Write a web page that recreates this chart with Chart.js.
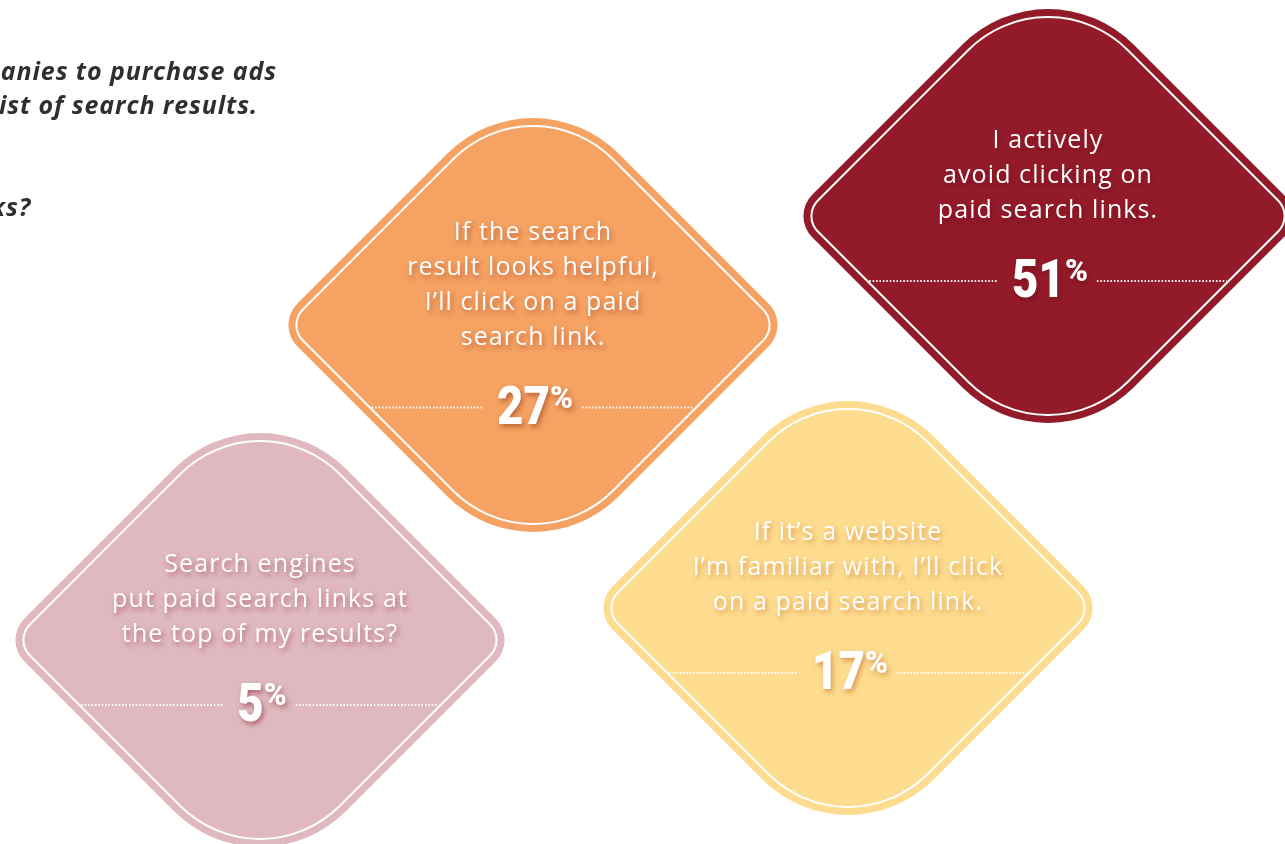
<!DOCTYPE html>
<html>
<head>
<meta charset="utf-8">
<script src="https://cdn.jsdelivr.net/npm/chart.js@4/dist/chart.umd.min.js"></script>
<style>
  html, body { margin: 0; padding: 0; background: #ffffff; overflow: hidden; }
  #wrap { position: relative; width: 1285px; height: 844px; }
</style>
</head>
<body>
<div id="wrap"><canvas id="c" width="1285" height="844"></canvas></div>
<script>
// ---- data ----
const categories = [
  "I actively\navoid clicking on\npaid search links.",
  "If the search\nresult looks helpful,\nI’ll click on a paid\nsearch link.",
  "If it’s a website\nI’m familiar with, I’ll click\non a paid search link.",
  "Search engines\nput paid search links at\nthe top of my results?"
];
const percentages = [51, 27, 17, 5];
const titleLines = ["companies to purchase ads", "list of search results.", "", "", "links?"];

// ---- layout & style (not data) ----
const layoutCenters = [[1048, 216], [533, 325], [848, 608], [260, 640]];
const fillColors = ["#931a29", "#f5a263", "#fddc8f", "#dfb9bf"];
const shadowColors = ["rgba(60,0,10,0.25)", "rgba(160,60,30,0.6)", "rgba(200,110,40,0.6)", "rgba(150,50,65,0.6)"];

const W = 1285, H = 844;

function diamondPath(ctx, cx, cy, D, rTB, rLR) {
  const T = [cx, cy - D], R = [cx + D, cy], B = [cx, cy + D], L = [cx - D, cy];
  ctx.beginPath();
  ctx.moveTo((L[0] + T[0]) / 2, (L[1] + T[1]) / 2);
  ctx.arcTo(T[0], T[1], R[0], R[1], rTB);
  ctx.arcTo(R[0], R[1], B[0], B[1], rLR);
  ctx.arcTo(B[0], B[1], L[0], L[1], rTB);
  ctx.arcTo(L[0], L[1], T[0], T[1], rLR);
  ctx.closePath();
}

const NUM_FONT = "900 53px Roboto, 'Liberation Sans', sans-serif";
const PCT_FONT = "900 31px Roboto, 'Liberation Sans', sans-serif";
const NUM_SX = 0.86;

const diamondPlugin = {
  id: 'diamonds',
  afterDatasetsDraw(chart) {
    const ctx = chart.ctx;
    const meta = chart.getDatasetMeta(0);
    const D = 257, rTB = 121, rLR = 30, inset = 8;
    meta.data.forEach((pt, i) => {
      const cx = pt.x, cy = pt.y;
      ctx.save();
      diamondPath(ctx, cx, cy, D, rTB, rLR);
      ctx.fillStyle = fillColors[i];
      ctx.fill();
      diamondPath(ctx, cx, cy, D - inset * Math.SQRT2, rTB - inset, rLR - inset);
      ctx.strokeStyle = '#ffffff';
      ctx.lineWidth = 2;
      ctx.stroke();

      // description text
      const lines = categories[i].split("\n");
      const n = lines.length;
      const spacing = 35;
      const blockH = 17 + spacing * (n - 1) + 79;
      const firstBase = cy - 2 - blockH / 2 + 17;
      ctx.shadowColor = shadowColors[i];
      ctx.shadowBlur = 5;
      ctx.shadowOffsetX = 2;
      ctx.shadowOffsetY = 3;
      ctx.fillStyle = '#ffffff';
      ctx.textAlign = 'center';
      ctx.textBaseline = 'alphabetic';
      ctx.font = "400 25px 'Open Sans', Lato, sans-serif";
      ctx.letterSpacing = '1.1px';
      lines.forEach((ln, k) => ctx.fillText(ln, cx, firstBase + k * spacing));
      ctx.letterSpacing = '0px';

      // percentage
      const numBase = firstBase + spacing * (n - 1) + 79;
      const numStr = String(percentages[i]);
      ctx.font = NUM_FONT;
      const nw = ctx.measureText(numStr).width * NUM_SX;
      ctx.font = PCT_FONT;
      const pw = ctx.measureText('%').width;
      const gap = 0;
      const total = nw + gap + pw;
      const x0 = cx - total / 2 + 2;
      ctx.textAlign = 'left';
      ctx.save();
      ctx.translate(x0, numBase);
      ctx.scale(NUM_SX, 1);
      ctx.font = NUM_FONT;
      ctx.fillText(numStr, 0, 0);
      ctx.restore();
      ctx.font = PCT_FONT;
      ctx.fillText('%', x0 + nw + gap, numBase - 16);

      // dotted leader lines
      ctx.shadowColor = 'rgba(0,0,0,0)';
      const dy = numBase - 16;
      const half = D - Math.abs(dy - cy) - inset * Math.SQRT2 - 2;
      ctx.strokeStyle = '#ffffff';
      ctx.lineWidth = 2;
      ctx.setLineDash([1.5, 1.9]);
      ctx.beginPath();
      ctx.moveTo(cx - half, dy); ctx.lineTo(x0 - 14, dy);
      ctx.moveTo(x0 + total + 9, dy); ctx.lineTo(cx + half, dy);
      ctx.stroke();
      ctx.setLineDash([]);
      ctx.restore();
    });

    // question text (cut off at the left edge)
    ctx.save();
    ctx.fillStyle = '#2f2f2f';
    ctx.font = "italic 700 25px 'Open Sans', Lato, sans-serif";
    ctx.letterSpacing = '0.9px';
    ctx.textAlign = 'right';
    ctx.textBaseline = 'alphabetic';
    const ends = [277, 258, 0, 0, 31];
    titleLines.forEach((t, k) => { if (t) ctx.fillText(t, ends[k], 80 + k * 34); });
    ctx.restore();
  }
};

new Chart(document.getElementById('c'), {
  type: 'scatter',
  data: {
    datasets: [{
      data: layoutCenters.map((p, i) => ({ x: p[0], y: p[1], v: percentages[i] })),
      pointRadius: 0,
      pointHoverRadius: 0
    }]
  },
  options: {
    responsive: false,
    animation: false,
    layout: { padding: 0 },
    plugins: { legend: { display: false }, tooltip: { enabled: false } },
    scales: {
      x: { type: 'linear', min: 0, max: W, display: false },
      y: { type: 'linear', min: 0, max: H, reverse: true, display: false }
    }
  },
  plugins: [diamondPlugin]
});
</script>
</body>
</html>
